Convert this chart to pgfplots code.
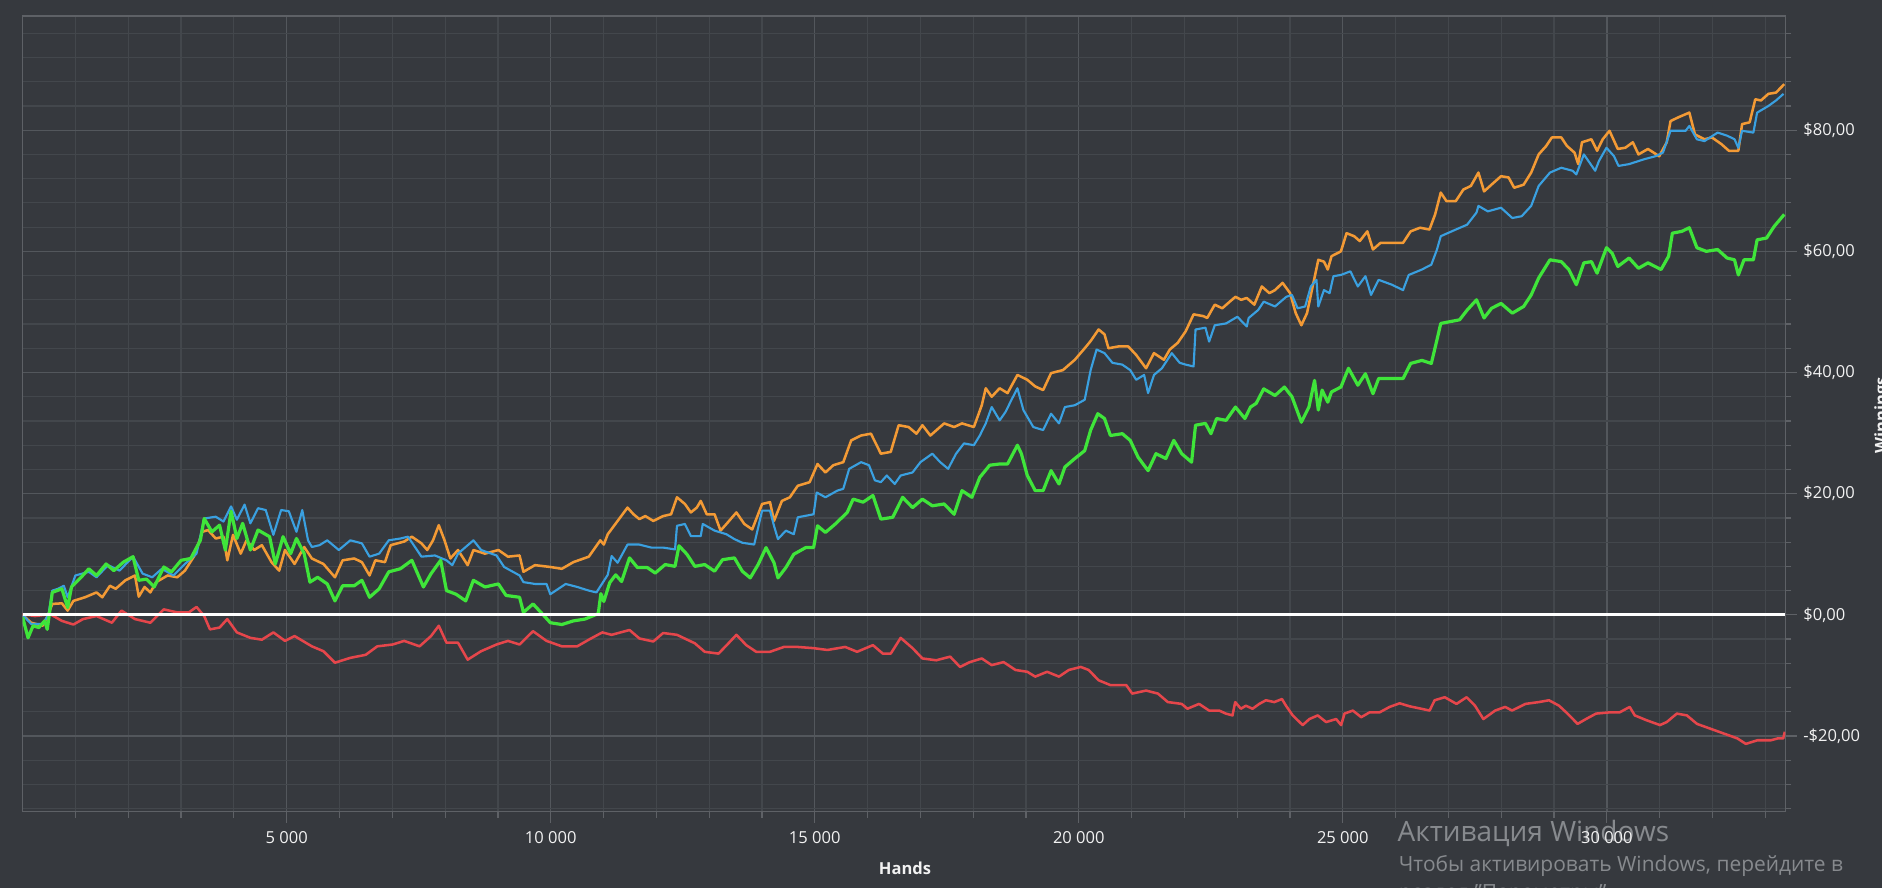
\documentclass[border=0pt]{standalone}
\usepackage{pgfplots}
\pgfplotsset{compat=1.18}
\usepackage{fontspec}
\setmainfont{Open Sans}
\definecolor{bg}{HTML}{36393E}
\definecolor{mingrid}{HTML}{43474C}
\definecolor{majgrid}{HTML}{53575C}
\definecolor{axisgrey}{HTML}{5E6166}
\definecolor{corange}{HTML}{F39A35}
\definecolor{cblue}{HTML}{3AA0E0}
\definecolor{cgreen}{HTML}{3FE53A}
\definecolor{cred}{HTML}{E5464B}
\definecolor{txt}{HTML}{F2F2F2}
\definecolor{wm}{HTML}{878A8E}
\begin{document}
\begin{tikzpicture}
\fill[bg] (0,0) rectangle (1411.5pt,666pt);
% watermark
\node[anchor=base west, inner sep=0, text=wm, font=\fontsize{21}{24}\selectfont] at (1048pt,35.2pt) {Активация Windows};
\node[anchor=base west, inner sep=0, text=wm, font=\fontsize{15.7}{18}\selectfont] at (1049pt,12pt) {Чтобы активировать Windows, перейдите в};
\node[anchor=base west, inner sep=0, text=wm, font=\fontsize{15.7}{18}\selectfont] at (1049pt,-8.5pt) {раздел "Параметры".};
\begin{axis}[
  scale only axis,
  width=1322pt, height=596.8pt,
  at={(17pt,57.2pt)}, anchor=south west,
  xmin=0, xmax=33380, ymin=-32.5, ymax=98.85,
  scaled x ticks=false, scaled y ticks=false,
  xtick={5000,10000,15000,20000,25000,30000},
  xticklabels={5 000,10 000,15 000,20 000,25 000,30 000},
  minor xtick={1000,2000,...,33000},
  ytick={-20,0,20,40,60,80},
  yticklabels={{-\$20,00},{\$0,00},{\$20,00},{\$40,00},{\$60,00},{\$80,00}},
  minor ytick={-32,-28,...,96},
  xtick pos=left, ytick pos=right,
  xticklabel pos=lower, yticklabel pos=right,
  tick align=outside,
  major tick length=8.5pt, minor tick length=4.6pt,
  tick style={color=axisgrey, line width=0.9pt},
  grid=both,
  major grid style={color=majgrid, line width=1pt},
  minor grid style={color=mingrid, line width=0.9pt},
  axis line style={color=axisgrey, line width=1.1pt},
  ticklabel style={text=txt, font=\fontsize{12.4}{14}\selectfont},
  xticklabel style={anchor=north, yshift=-2.5pt},
  yticklabel style={anchor=west, xshift=1.5pt},
]
\addplot[cred, line width=1.9pt, line join=round] coordinates {
(0,0.1) (233,-0.2) (524,0.1) (743,-1.0) (961,-1.6) (1143,-0.7) (1398,-0.2) (1690,-1.3) (1872,0.7) (2127,-0.7) (2418,-1.3) (2673,0.9) (2928,0.4) (3146,0.4) (3292,1.3) (3438,-0.2) (3547,-2.4) (3729,-2.1) (3875,-0.7) (4057,-2.9) (4312,-3.8) (4530,-4.1) (4748,-2.9) (4967,-4.3) (5149,-3.5) (5477,-5.2) (5695,-6.0) (5914,-7.9) (6205,-7.1) (6496,-6.6) (6715,-5.2) (7006,-4.9) (7225,-4.3) (7516,-5.2) (7734,-3.5) (7880,-1.8) (8026,-4.6) (8244,-4.6) (8427,-7.4) (8682,-6.0) (8973,-4.9) (9191,-4.3) (9410,-4.9) (9665,-2.7) (9920,-4.3) (10211,-5.2) (10502,-5.2) (10721,-4.1) (10976,-2.9)
(11154,-3.3) (11492,-2.5) (11679,-3.9) (11942,-4.4) (12129,-3.0) (12391,-3.3) (12729,-4.7) (12916,-6.1) (13178,-6.4) (13366,-4.7) (13516,-3.3) (13703,-5.0) (13891,-6.1) (14153,-6.1) (14415,-5.3) (14678,-5.3) (14978,-5.5) (15240,-5.8) (15577,-5.3) (15802,-6.1) (16102,-5.0) (16289,-6.4) (16439,-6.4) (16627,-3.8) (16852,-5.5) (17039,-7.2) (17301,-7.5) (17564,-6.9) (17751,-8.6) (17938,-7.8) (18163,-7.2) (18351,-8.3) (18576,-7.8) (18801,-9.1) (19025,-9.4) (19175,-10.2) (19400,-9.4) (19625,-10.2) (19812,-9.1) (20037,-8.6) (20187,-9.1) (20375,-10.8) (20599,-11.6) (20899,-11.6) (21012,-13.0) (21274,-12.5) (21499,-13.0) (21686,-14.4) (21949,-14.7)
(22057,-15.5) (22278,-14.7) (22468,-15.8) (22658,-15.8) (22785,-16.3) (22911,-16.6) (22962,-14.4) (23069,-15.5) (23164,-15.0) (23291,-15.5) (23418,-14.7) (23544,-14.1) (23702,-14.4) (23848,-13.9) (23924,-15.0) (24051,-16.6) (24240,-18.2) (24367,-17.2) (24525,-16.6) (24684,-17.7) (24873,-17.2) (24968,-18.2) (25032,-16.3) (25190,-15.8) (25348,-16.9) (25506,-16.1) (25696,-16.1) (25886,-15.2) (26076,-14.6) (26266,-15.1) (26484,-15.5) (26643,-15.8) (26739,-14.1) (26930,-13.6) (27153,-14.7) (27344,-13.6) (27503,-15.0) (27662,-17.2) (27885,-15.8) (28076,-15.2) (28204,-15.8) (28459,-14.7) (28713,-14.4) (28904,-14.1) (29095,-15.0) (29255,-16.3) (29446,-18.0) (29605,-17.2) (29796,-16.3) (30051,-16.1) (30242,-16.1) (30433,-15.2) (30529,-16.6) (30752,-17.4) (31006,-18.2) (31134,-17.7) (31325,-16.3) (31516,-16.6) (31707,-18.0) (31962,-18.8) (32217,-19.6) (32472,-20.4) (32631,-21.3) (32854,-20.7) (33109,-20.7) (33236,-20.4) (33340,-20.4) (33370,-19.3)
};
\addplot[corange, line width=1.9pt, line join=round] coordinates {
(0,0) (160,-1.3) (379,-1.8) (488,0.1) (561,1.8) (743,1.9) (852,0.7) (961,2.3) (1180,2.9) (1398,3.7) (1508,2.9) (1653,4.8) (1762,4.3) (1945,5.7) (2127,6.5) (2199,3.0) (2309,4.6) (2418,3.7) (2527,5.4) (2746,6.5) (2928,6.2) (3073,7.3) (3255,9.8) (3401,13.7) (3510,14.0) (3656,12.6) (3802,12.9) (3875,9.0) (3984,13.2) (4129,10.1) (4239,12.3) (4384,10.7) (4530,11.5) (4712,8.7) (4858,7.3) (4967,10.7) (5149,8.4) (5331,11.2) (5477,9.3) (5695,8.4) (5914,6.2) (6059,9.0) (6278,9.3) (6424,8.7) (6569,6.5) (6678,9.0) (6861,8.7) (6970,11.5) (7225,12.1) (7370,12.9) (7552,11.8) (7662,10.7) (7771,12.3) (7880,14.8) (7989,12.3) (8099,9.3) (8244,10.7) (8427,8.2) (8536,10.7) (8754,10.1) (9009,10.7) (9191,9.6) (9410,9.8) (9483,7.1) (9701,8.2) (9992,7.9) (10211,7.6) (10429,8.7) (10721,9.6) (10939,12.3)
(11005,11.6) (11080,13.3) (11267,15.5) (11454,17.7) (11567,16.6) (11679,15.8) (11792,16.3) (11942,15.5) (12129,16.3) (12279,16.6) (12391,19.4) (12541,18.3) (12654,16.9) (12766,17.7) (12841,18.8) (12954,16.6) (13103,16.6) (13216,13.9) (13328,15.0) (13516,16.9) (13666,15.0) (13816,14.1) (14003,18.3) (14153,18.6) (14228,15.5) (14378,18.8) (14528,19.4) (14678,21.3) (14903,21.9) (15052,24.9) (15202,23.5) (15352,24.7) (15540,25.2) (15690,28.8) (15877,29.6) (16064,29.9) (16252,26.6) (16439,26.9) (16589,31.3) (16777,31.0) (16926,29.9) (17039,31.3) (17189,29.6) (17451,31.6) (17639,31.0) (17789,31.6) (18013,31.0) (18163,34.6) (18238,37.4) (18351,36.0) (18501,37.4) (18651,36.6) (18838,39.6) (19025,38.8) (19175,37.7) (19325,37.1) (19475,39.9) (19700,40.4) (19925,42.1) (20112,44.0) (20225,45.2) (20375,47.1) (20487,46.3) (20562,44.0) (20749,44.3) (20937,44.3) (21087,42.9) (21274,40.7) (21424,43.2) (21611,42.1) (21724,43.8) (21874,44.9) (22024,46.8) (22174,49.6) (22361,49.3)
(22432,49.0) (22575,51.2) (22717,50.6) (22860,51.7) (22967,52.5) (23074,52.0) (23181,52.3) (23324,51.2) (23466,54.2) (23609,53.1) (23716,53.6) (23859,54.8) (24001,53.1) (24108,49.8) (24215,47.8) (24322,49.8) (24429,54.2) (24536,58.6) (24643,58.3) (24715,57.0) (24786,59.2) (24964,60.0) (25071,63.0) (25214,62.5) (25321,61.7) (25464,63.3) (25571,60.3) (25713,61.4) (25927,61.4) (26141,61.4) (26284,63.3) (26463,63.9) (26641,63.6) (26748,66.1) (26855,69.7) (26962,68.3) (27140,68.3) (27283,70.2) (27425,70.8) (27568,73.0) (27675,69.9) (27853,71.3) (27996,72.4) (28139,72.2) (28245,70.5) (28424,71.0) (28567,73.0) (28709,76.0) (28852,77.4) (28959,78.8) (29137,78.8) (29244,77.4) (29387,76.3) (29458,74.4) (29529,78.0) (29708,78.5) (29815,76.6) (29922,78.5) (30050,79.9) (30207,76.9) (30350,77.1) (30492,78.0) (30599,76.0) (30778,76.9) (30992,75.7) (31134,78.0) (31206,81.5) (31348,82.1) (31562,82.9) (31669,79.3) (31848,78.5) (31990,78.8) (32169,77.7) (32311,76.6) (32490,76.6) (32561,81.0) (32704,81.3) (32811,85.1) (32918,84.9) (33060,86.0) (33203,86.2) (33360,87.6)
};
\addplot[cblue, line width=1.6pt, line join=round] coordinates {
(0,0) (160,-1.5) (379,-1.5) (488,0) (561,4.0) (670,4.3) (779,4.8) (852,2.9) (998,6.5) (1253,7.1) (1398,6.2) (1617,8.2) (1835,7.3) (2090,9.6) (2272,6.8) (2454,6.2) (2636,7.6) (2855,6.5) (3073,8.4) (3292,10.1) (3438,15.9) (3656,16.2) (3802,15.4) (3947,17.9) (4057,15.7) (4202,18.2) (4312,15.1) (4457,17.6) (4603,17.3) (4748,13.2) (4894,17.3) (5040,17.1) (5185,13.7) (5295,17.3) (5404,12.3) (5477,11.2) (5622,11.5) (5768,12.3) (5987,10.7) (6205,12.3) (6424,11.8) (6569,9.6) (6751,10.1) (6933,12.3) (7152,12.6) (7298,12.9) (7552,9.6) (7807,9.8) (8026,9.0) (8135,8.2) (8244,10.1) (8390,11.2) (8536,12.3) (8682,10.7) (8973,9.8) (9118,7.9) (9410,6.5) (9483,5.4) (9701,5.1) (9920,5.1) (9992,3.4) (10283,5.1) (10502,4.6) (10721,4.0) (10866,3.7)
(11080,6.6) (11154,9.7) (11267,8.6) (11454,11.6) (11679,11.6) (11904,11.1) (12129,11.1) (12354,10.8) (12391,14.7) (12541,15.0) (12654,13.0) (12841,13.0) (12879,15.0) (13103,13.9) (13328,13.3) (13478,12.5) (13628,11.9) (13853,11.6) (14003,17.2) (14153,17.2) (14228,14.7) (14303,12.5) (14453,13.9) (14603,13.3) (14678,16.1) (14978,16.6) (15037,20.2) (15202,19.4) (15427,20.5) (15540,20.8) (15652,24.1) (15877,25.2) (16027,24.7) (16139,22.2) (16252,21.9) (16364,23.0) (16514,21.6) (16627,23.0) (16852,23.5) (17001,25.2) (17226,26.6) (17376,25.2) (17526,24.1) (17676,26.6) (17826,28.3) (18013,28.0) (18126,29.6) (18238,31.6) (18351,34.3) (18501,32.1) (18613,33.5) (18726,35.5) (18838,37.4) (18951,33.8) (19138,31.0) (19325,30.5) (19475,33.2) (19625,31.6) (19737,34.3) (19925,34.6) (20112,35.5) (20225,40.4) (20337,43.8) (20487,43.2) (20637,41.6) (20824,41.3) (20974,40.4) (21087,38.8) (21237,39.6) (21312,36.6) (21424,39.6) (21574,40.7) (21761,43.2) (21911,41.6) (22024,41.3) (22174,41.0) (22211,47.1) (22399,47.4)
(22468,45.1) (22575,47.8) (22789,48.1) (23003,49.2) (23181,47.6) (23217,49.0) (23395,50.3) (23502,51.7) (23716,50.9) (23930,52.5) (24037,52.8) (24144,50.6) (24287,50.9) (24394,54.2) (24501,55.3) (24536,50.9) (24643,53.6) (24750,53.1) (24822,55.9) (24964,56.1) (25143,56.7) (25285,54.2) (25428,55.9) (25535,52.8) (25678,55.3) (25927,54.5) (26141,53.6) (26248,56.1) (26498,57.0) (26676,57.8) (26783,60.3) (26855,62.5) (27140,63.6) (27354,64.4) (27532,66.4) (27568,67.5) (27746,66.6) (27996,67.2) (28210,65.5) (28388,65.8) (28567,67.5) (28709,70.8) (28923,73.0) (29137,73.8) (29351,73.3) (29422,72.7) (29565,76.0) (29779,73.3) (29850,74.9) (29993,77.1) (30136,75.7) (30221,74.1) (30421,74.4) (30706,75.2) (30920,75.7) (31063,76.3) (31206,79.9) (31491,79.9) (31562,80.7) (31705,78.5) (31848,78.2) (32098,79.6) (32276,79.1) (32418,78.5) (32490,77.1) (32561,79.9) (32775,79.6) (32846,82.9) (33060,84.0) (33203,84.9) (33346,86.0)
};
\addplot[cgreen, line width=2.4pt, line join=round] coordinates {
(0,-0.4) (102,-3.8) (197,-1.8) (306,-2.1) (415,-1.0) (466,-2.4) (561,3.7) (743,4.3) (852,1.2) (925,4.6) (1107,6.2) (1253,7.6) (1398,6.5) (1580,8.4) (1726,7.3) (1908,8.7) (2090,9.6) (2199,5.7) (2345,5.9) (2491,4.6) (2673,7.9) (2819,7.1) (3001,9.0) (3183,9.3) (3365,12.3) (3438,15.9) (3583,13.7) (3729,14.8) (3838,10.7) (3947,17.1) (4057,12.6) (4166,15.1) (4312,10.7) (4457,14.0) (4676,12.9) (4785,8.4) (4931,12.9) (5076,10.1) (5185,12.6) (5331,10.1) (5440,5.4) (5586,6.2) (5768,5.1) (5914,2.3) (6059,4.8) (6278,4.8) (6424,5.7) (6569,2.9) (6751,4.3) (6933,7.1) (7152,7.6) (7370,9.0) (7589,4.6) (7734,6.8) (7916,9.0) (8026,4.0) (8208,3.4) (8390,2.3) (8536,5.7) (8754,4.6) (9009,5.1) (9155,3.2) (9410,2.9) (9483,0.4) (9665,1.8) (9847,0.1) (9992,-1.3) (10211,-1.6) (10429,-1.0) (10648,-0.7) (10900,0.2) (10950,3.5) (11005,2.2)
(11117,5.3) (11230,6.6) (11342,5.5) (11492,9.4) (11642,7.8) (11829,7.8) (11979,6.9) (12167,8.3) (12354,8.0) (12429,11.4) (12579,10.0) (12729,8.0) (12916,8.3) (13103,7.2) (13253,9.1) (13478,9.4) (13628,7.2) (13778,6.1) (13928,8.3) (14078,11.1) (14228,8.6) (14303,6.1) (14453,7.8) (14603,10.0) (14828,11.1) (14978,11.1) (15052,14.7) (15202,13.6) (15390,15.0) (15615,16.9) (15727,19.1) (15915,18.6) (16102,19.7) (16252,15.8) (16477,16.1) (16664,19.4) (16852,17.7) (17039,19.1) (17226,18.0) (17451,18.3) (17639,16.6) (17789,20.5) (17976,19.4) (18126,22.7) (18313,24.7) (18501,24.9) (18651,24.9) (18838,28.0) (18913,26.6) (19025,23.0) (19175,20.5) (19325,20.5) (19475,23.8) (19625,21.6) (19737,24.4) (19925,25.8) (20112,27.1) (20225,30.5) (20360,33.2) (20487,32.4) (20599,29.6) (20824,29.9) (20974,28.8) (21124,26.0) (21312,23.8) (21462,26.6) (21649,25.8) (21799,28.8) (21949,26.6) (22136,25.2) (22211,31.3) (22399,31.6)
(22503,29.9) (22610,32.4) (22789,32.1) (22967,34.3) (23145,32.4) (23252,34.3) (23359,34.9) (23502,37.3) (23716,36.2) (23894,37.6) (24037,36.0) (24215,31.8) (24358,34.3) (24465,38.7) (24536,33.8) (24608,37.1) (24715,35.1) (24786,36.8) (24964,37.6) (25107,40.7) (25285,37.9) (25428,39.8) (25571,36.5) (25678,39.0) (25927,39.0) (26141,39.0) (26284,41.5) (26498,42.0) (26676,41.5) (26783,45.4) (26855,48.1) (27033,48.4) (27211,48.7) (27354,50.3) (27532,52.0) (27675,49.0) (27817,50.6) (27996,51.4) (28210,49.8) (28424,50.9) (28567,52.8) (28709,55.6) (28923,58.6) (29137,58.3) (29280,57.0) (29422,54.5) (29565,58.1) (29708,58.3) (29815,56.4) (29993,60.6) (30100,59.7) (30207,57.5) (30421,58.9) (30599,57.2) (30778,58.1) (31027,57.0) (31170,59.2) (31241,63.0) (31420,63.3) (31562,63.9) (31705,60.6) (31883,60.0) (32098,60.3) (32276,58.9) (32418,58.6) (32490,56.1) (32597,58.6) (32775,58.6) (32846,61.9) (33025,62.2) (33167,64.1) (33360,66.1)
};
\addplot[white, line width=2.2pt] coordinates {(0,0) (33380,0)};
\end{axis}
\node[anchor=base, inner sep=0, text=txt, font=\fontsize{12.4}{14}\selectfont\bfseries] at (678.8pt,9.8pt) {Hands};
\node[rotate=90, anchor=north, inner sep=0, text=txt, font=\fontsize{12.4}{14}\selectfont\bfseries] at (1405.5pt,354.8pt) {Winnings};
\pgfresetboundingbox
\path[use as bounding box] (0,0) rectangle (1411.5pt,666pt);
\end{tikzpicture}
\end{document}
